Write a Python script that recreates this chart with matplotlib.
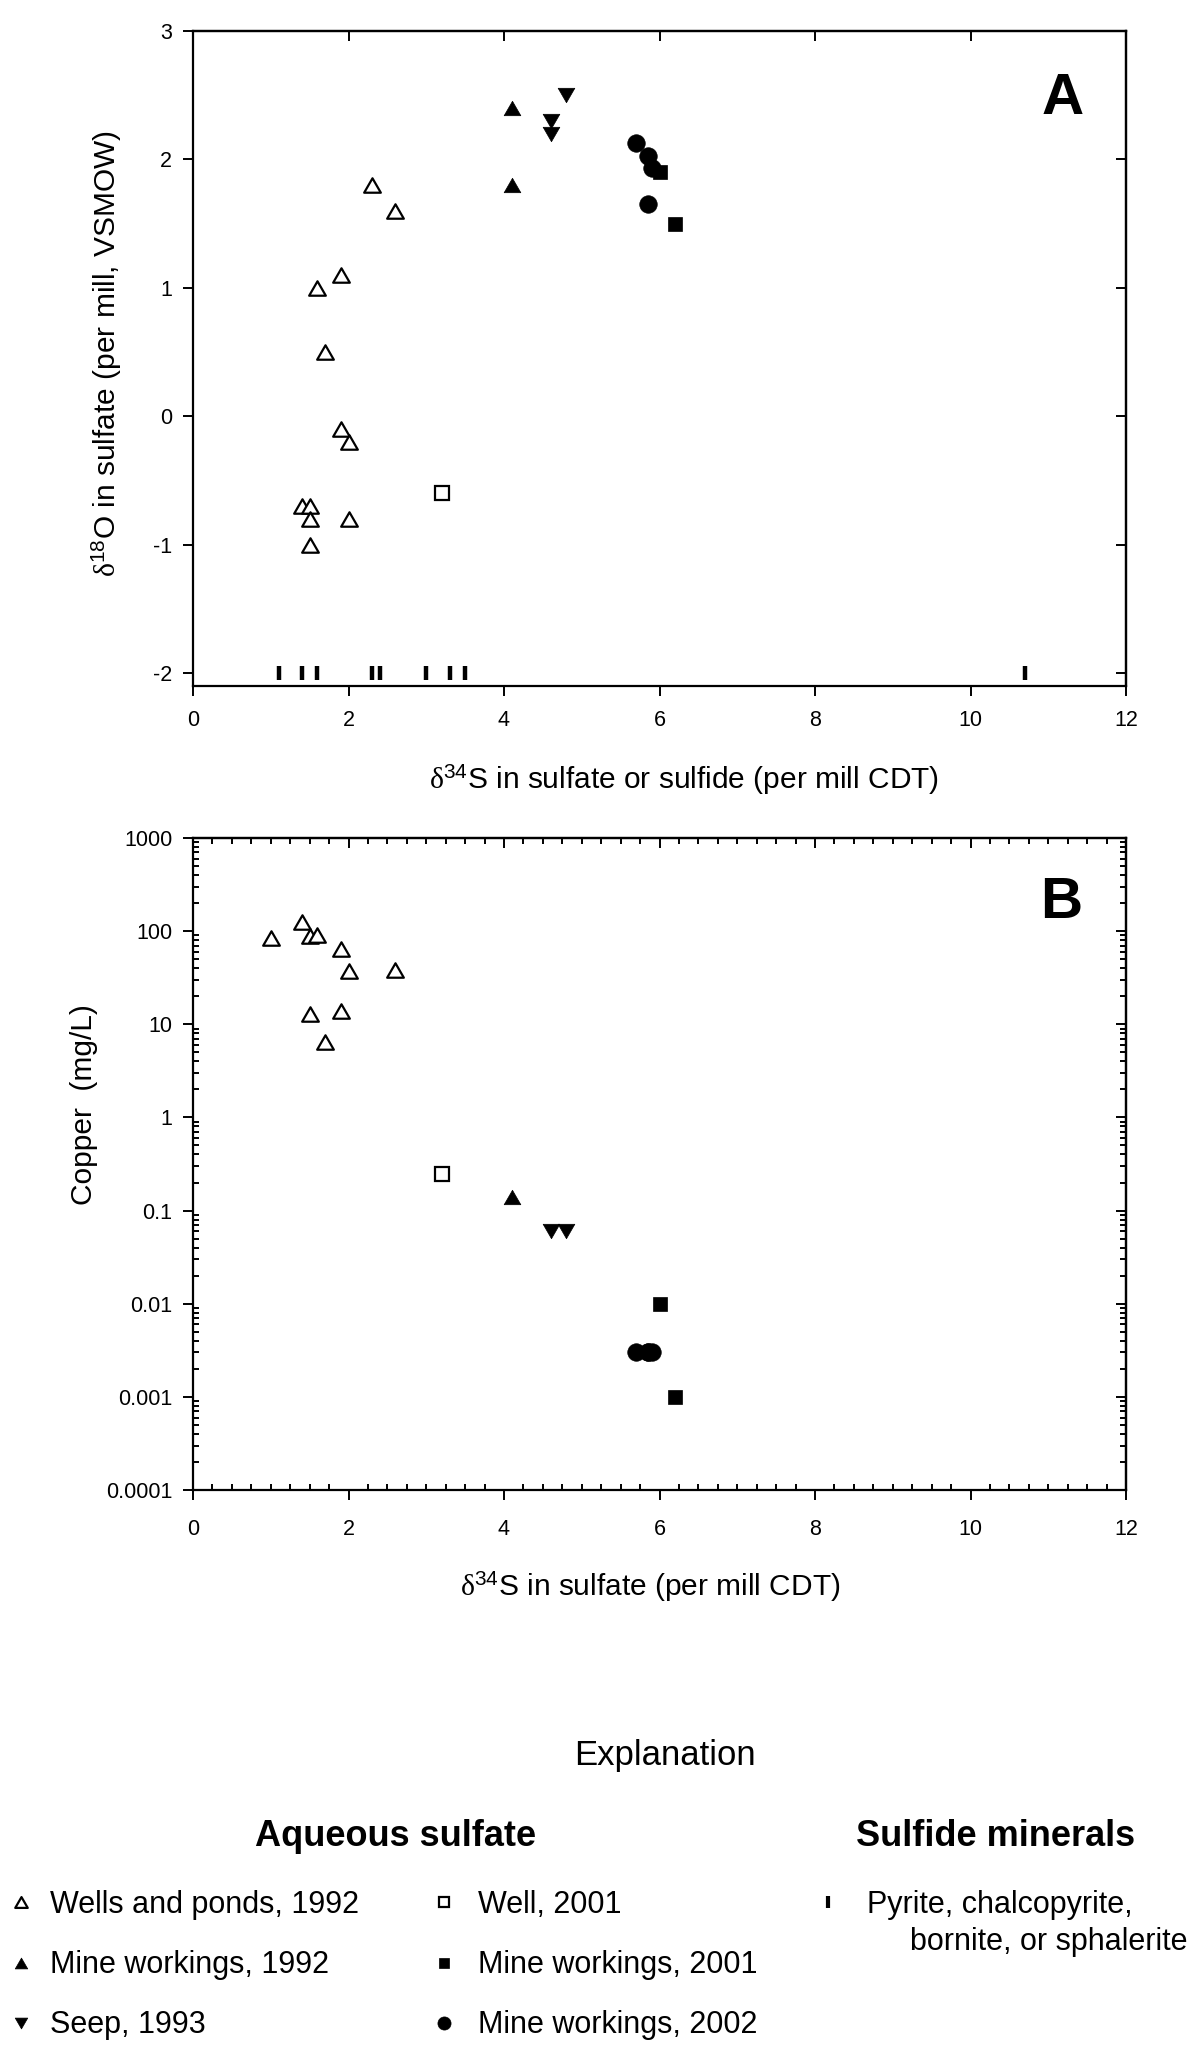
import matplotlib
matplotlib.use("Agg")
import matplotlib.pyplot as plt
from matplotlib.ticker import MultipleLocator, LogLocator, FixedLocator, FixedFormatter, NullFormatter
from matplotlib.lines import Line2D
from matplotlib.path import Path

plt.rcParams['font.family'] = ['Liberation Sans', 'DejaVu Sans']
plt.rcParams['axes.unicode_minus'] = False
plt.rcParams['mathtext.fontset'] = 'custom'
plt.rcParams['mathtext.rm'] = 'Liberation Serif'
plt.rcParams['mathtext.sf'] = 'Liberation Sans'
plt.rcParams['mathtext.it'] = 'Liberation Serif:italic'

# ---- panel A: d34S vs d18O of sulfate ----
wells92_s = [2.3, 2.6, 1.9, 1.6, 1.7, 1.9, 2.0, 1.4, 1.5, 1.5, 2.0, 1.5]
wells92_o = [1.8, 1.6, 1.1, 1.0, 0.5, -0.1, -0.2, -0.7, -0.7, -0.8, -0.8, -1.0]
mine92_s = [4.1, 4.1]
mine92_o = [2.4, 1.8]
seep93_s = [4.8, 4.6, 4.6]
seep93_o = [2.5, 2.3, 2.2]
well01_s = [3.2]
well01_o = [-0.6]
mine01_s = [6.0, 6.2]
mine01_o = [1.9, 1.5]
mine02_s = [5.7, 5.85, 5.9, 5.85]
mine02_o = [2.13, 2.03, 1.93, 1.65]
# sulfide minerals, drawn along the bottom at -2
sulfide_s = [1.1, 1.4, 1.6, 2.3, 2.4, 3.0, 3.3, 3.5, 10.7]
sulfide_o = [-2, -2, -2, -2, -2, -2, -2, -2, -2]

# ---- panel B: d34S vs copper ----
wells92_s_b = [1.0, 1.4, 1.5, 1.6, 1.9, 2.0, 2.6, 1.5, 1.9, 1.7]
wells92_cu = [85, 125, 88, 92, 65, 37, 38, 12.8, 13.9, 6.5]
mine92_s_b = [4.1]
mine92_cu = [0.14]
seep93_s_b = [4.6, 4.8]
seep93_cu = [0.06, 0.06]
well01_s_b = [3.2]
well01_cu = [0.25]
mine01_s_b = [6.0, 6.2]
mine01_cu = [0.01, 0.001]
mine02_s_b = [5.7, 5.85, 5.9, 5.85]
mine02_cu = [0.003, 0.003, 0.003, 0.003]

cu_ticks = [0.0001, 0.001, 0.01, 0.1, 1, 10, 100, 1000]
cu_labels = ['0.0001', '0.001', '0.01', '0.1', '1', '10', '100', '1000']

W, H = 1200, 2057
TRI_UP = Path([(-1, -0.866), (1, -0.866), (0, 0.866), (-1, -0.866)], closed=True)
TRI_DN = Path([(-1, 0.866), (1, 0.866), (0, -0.866), (-1, 0.866)], closed=True)
TICK_FS = 15.5
LABEL_FS = 21.5


def fx(px):
    return px / W


def fy(py):
    return 1 - py / H


def styles(ms):
    return {
        'wells92': dict(marker=TRI_UP, mfc='white', mec='black', mew=1.6, ms=ms),
        'mine92': dict(marker=TRI_UP, mfc='black', mec='black', mew=0.5, ms=ms),
        'seep93': dict(marker=TRI_DN, mfc='black', mec='black', mew=0.5, ms=ms),
        'well01': dict(marker='s', mfc='white', mec='black', mew=1.6, ms=ms * 0.85),
        'mine01': dict(marker='s', mfc='black', mec='black', mew=0.5, ms=ms * 0.85),
        'mine02': dict(marker='o', mfc='black', mec='black', mew=0.5, ms=ms * 1.05),
    }


def frame(ax, xpad, log=False):
    for sp in ax.spines.values():
        sp.set_linewidth(1.6)
    ax.set_xlim(0, 12)
    ax.xaxis.set_major_locator(MultipleLocator(2))
    ax.tick_params(which='major', direction='out', length=7, width=1.4,
                   labelsize=TICK_FS, top=False, right=False)
    ax.tick_params(axis='x', which='major', pad=xpad)
    ax.tick_params(axis='y', which='major', pad=8)
    ax.tick_params(which='minor', direction='in', length=4.3, width=1.4,
                   top=False, right=False)
    top = ax.secondary_xaxis('top')
    right = ax.secondary_yaxis('right')
    top.xaxis.set_major_locator(MultipleLocator(2))
    if log:
        ax.xaxis.set_minor_locator(MultipleLocator(0.25))
        top.xaxis.set_minor_locator(MultipleLocator(0.25))
        right.yaxis.set_major_locator(FixedLocator(cu_ticks))
        right.yaxis.set_minor_locator(LogLocator(base=10, subs=range(2, 10), numticks=20))
        right.yaxis.set_minor_formatter(NullFormatter())
    else:
        right.yaxis.set_major_locator(MultipleLocator(1))
    for sec in (top, right):
        for sp in sec.spines.values():
            sp.set_linewidth(1.6)
        sec.tick_params(which='major', direction='in', length=7, width=1.4)
        sec.tick_params(which='minor', direction='in', length=4.3, width=1.4)
    top.tick_params(labeltop=False)
    right.tick_params(labelright=False)


fig = plt.figure(figsize=(12, 20.57), dpi=100)
fig.patch.set_facecolor('white')

# ---------------- panel A ----------------
axA = fig.add_axes([fx(193), fy(686), fx(1126 - 193), (686 - 31) / H])
st = styles(12)
axA.plot(wells92_s, wells92_o, ls='none', **st['wells92'])
axA.plot(mine92_s, mine92_o, ls='none', **st['mine92'])
axA.plot(seep93_s, seep93_o, ls='none', **st['seep93'])
axA.plot(well01_s, well01_o, ls='none', **st['well01'])
axA.plot(mine01_s, mine01_o, ls='none', **st['mine01'])
axA.plot(mine02_s, mine02_o, ls='none', **st['mine02'])
axA.plot(sulfide_s, sulfide_o, ls='none', marker='|', ms=10, mew=3.2, color='black')
axA.set_ylim(-2.1, 3)
axA.yaxis.set_major_locator(MultipleLocator(1))
frame(axA, xpad=10.5)
axA.text(0.9325, 0.896, 'A', transform=axA.transAxes, fontsize=42, fontweight='bold',
         ha='center', va='center')

fig.text(fx(684), fy(780), r'$\mathrm{\delta}^{\mathsf{34}}$S in sulfate or sulfide (per mill CDT)',
         fontsize=LABEL_FS, ha='center', va='center')
fig.text(fx(107), fy(354), r'$\mathrm{\delta}^{\mathsf{18}}$O in sulfate (per mill, VSMOW)',
         fontsize=LABEL_FS, ha='center', va='center', rotation=90)

# ---------------- panel B ----------------
axB = fig.add_axes([fx(193), fy(1490), fx(1126 - 193), (1490 - 838) / H])
axB.set_yscale('log')
axB.plot(wells92_s_b, wells92_cu, ls='none', **st['wells92'])
axB.plot(mine92_s_b, mine92_cu, ls='none', **st['mine92'])
axB.plot(seep93_s_b, seep93_cu, ls='none', **st['seep93'])
axB.plot(well01_s_b, well01_cu, ls='none', **st['well01'])
axB.plot(mine01_s_b, mine01_cu, ls='none', **st['mine01'])
axB.plot(mine02_s_b, mine02_cu, ls='none', **st['mine02'])
axB.set_ylim(1e-4, 1e3)
axB.yaxis.set_major_locator(FixedLocator(cu_ticks))
axB.yaxis.set_major_formatter(FixedFormatter(cu_labels))
axB.yaxis.set_minor_locator(LogLocator(base=10, subs=range(2, 10), numticks=20))
axB.yaxis.set_minor_formatter(NullFormatter())
frame(axB, xpad=14, log=True)
axB.text(0.93, 0.9, 'B', transform=axB.transAxes, fontsize=42, fontweight='bold',
         ha='center', va='center')

fig.text(fx(650), fy(1587), r'$\mathrm{\delta}^{\mathsf{34}}$S in sulfate (per mill CDT)',
         fontsize=LABEL_FS, ha='center', va='center')
fig.text(fx(84), fy(1105), 'Copper  (mg/L)', fontsize=LABEL_FS,
         ha='center', va='center', rotation=90)

# ---------------- explanation ----------------
fig.text(fx(665), fy(1755), 'Explanation', fontsize=25, ha='center', va='center')
fig.text(fx(396), fy(1837), 'Aqueous sulfate', fontsize=26, fontweight='bold',
         ha='center', va='center')
fig.text(fx(996), fy(1837), 'Sulfide minerals', fontsize=26, fontweight='bold',
         ha='center', va='center')

lst = styles(9)


def key(name):
    return Line2D([], [], ls='none', **lst[name])


leg_kw = dict(loc='upper left', bbox_transform=fig.transFigure, frameon=False,
              fontsize=22, handlelength=0.6, labelspacing=0.99, borderpad=0,
              borderaxespad=0)
fig.legend([key('wells92'), key('mine92'), key('seep93')],
           ['Wells and ponds, 1992', 'Mine workings, 1992', 'Seep, 1993'],
           bbox_to_anchor=(fx(12), fy(1890)), handletextpad=0.65, **leg_kw)
fig.legend([key('well01'), key('mine01'), key('mine02')],
           ['Well, 2001', 'Mine workings, 2001', 'Mine workings, 2002'],
           bbox_to_anchor=(fx(435), fy(1890)), handletextpad=0.8, **leg_kw)
fig.legend([Line2D([], [], ls='none', marker='|', ms=8, mew=3, color='black')],
           ['Pyrite, chalcopyrite,'],
           bbox_to_anchor=(fx(819), fy(1890)), handletextpad=0.98, **leg_kw)
fig.text(fx(910), fy(1942), 'bornite, or sphalerite', fontsize=22, ha='left', va='center')

fig.savefig('out.png', dpi=100, facecolor='white')
